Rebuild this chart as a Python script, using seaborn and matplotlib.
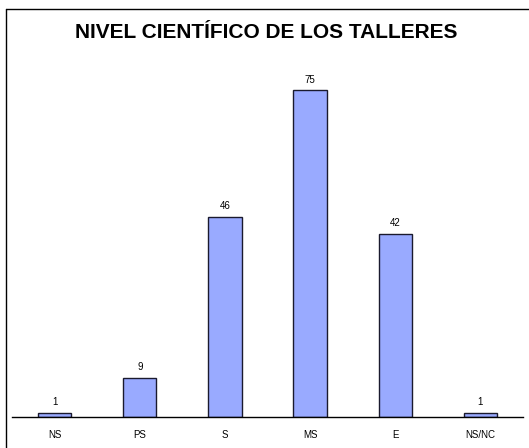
#import packages
import pandas as pd
import matplotlib
matplotlib.use("Agg")
import matplotlib.pyplot as plt
import seaborn as sns
from matplotlib.lines import Line2D

#data
categorias = ["NS", "PS", "S", "MS", "E", "NS/NC"]
valores = [1, 9, 46, 75, 42, 1]

df = pd.DataFrame({"nivel": categorias, "n": valores})

sns.set_style("white")
plt.rcParams["font.family"] = ["Liberation Sans", "DejaVu Sans"]
plt.rcParams["text.color"] = "black"
plt.rcParams["xtick.color"] = "black"

W, H = 529, 448
fig = plt.figure(figsize=(W / 100, H / 100), dpi=100)
ax = fig.add_axes([12 / W, 31 / H, 511 / W, 357 / H])

sns.barplot(data=df, x="nivel", y="n", ax=ax, color="#99aaff", saturation=1,
            edgecolor="#1a1a2e", linewidth=1.0, width=0.39)

#value labels on top of the bars
for i, v in enumerate(valores):
    ax.text(i, v + 1.3, str(v), ha="center", va="bottom", fontsize=7, color="black")

ax.set_xlim(-0.5, 5.5)
ax.set_ylim(0, 82)
ax.set_xlabel("")
ax.set_ylabel("")
ax.set_yticks([])
ax.tick_params(axis="x", length=0, labelsize=7, pad=9, labelcolor="black")
for s in ["left", "right", "top"]:
    ax.spines[s].set_visible(False)
ax.spines["bottom"].set_color("black")
ax.spines["bottom"].set_linewidth(1.0)

fig.text(266 / W, 1 - 33 / H, "NIVEL CIENTÍFICO DE LOS TALLERES",
         ha="center", va="center", fontsize=15, fontweight="bold", color="black")

#frame (left and top edge only, as in the picture)
fig.add_artist(Line2D([6 / W, 6 / W], [0, 1 - 9 / H], transform=fig.transFigure,
                      color="black", linewidth=1.0))
fig.add_artist(Line2D([6 / W, 1], [1 - 9 / H, 1 - 9 / H], transform=fig.transFigure,
                      color="black", linewidth=1.0))

fig.savefig("out.png", dpi=100)
